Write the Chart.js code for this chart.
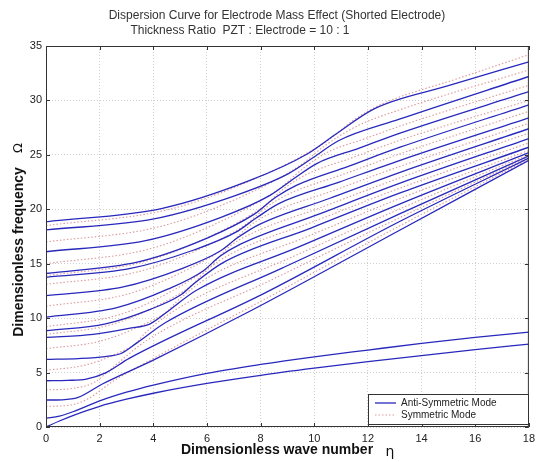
<!DOCTYPE html>
<html>
<head>
<meta charset="utf-8">
<script src="https://cdn.jsdelivr.net/npm/chart.js@4.4.1/dist/chart.umd.min.js"></script>
<style>
  html, body { margin: 0; padding: 0; background: #fff; }
  #wrap { width: 540px; height: 462px; }
</style>
</head>
<body>
<div id="wrap"><canvas id="dispersion" width="540" height="462"></canvas></div>
<script>
// tick labels
const xTicks = [0, 2, 4, 6, 8, 10, 12, 14, 16, 18];
const yTicks = [0, 5, 10, 15, 20, 25, 30, 35];

// Anti-symmetric modes (solid blue), points [eta, Omega]
const aLow1 = [[0,0],[0.5,0.55],[1,1.05],[2,1.9],[3,2.55],[4,3.1],[6,4.0],[8,4.75],[10,5.4],[12,6.0],[14,6.55],[16,7.1],[18,7.62]];
const aLow2 = [[0,0.8],[0.5,1.0],[1,1.4],[2,2.4],[3,3.2],[4,3.85],[6,4.93],[8,5.75],[10,6.45],[12,7.07],[14,7.68],[16,8.23],[18,8.72]];
const a1  = [[0,2.48],[0.6,2.5],[1.2,2.72],[2.1,3.95],[4,6.15],[7.65,10.7],[13.2,18.1],[18,24.5]];
const a2  = [[0,4.25],[0.8,4.28],[1.5,4.4],[2.2,4.95],[3.1,6.3],[8.15,12.3],[13.2,18.9],[18,24.7]];
const a3  = [[0,6.21],[1.2,6.29],[2.2,6.47],[2.8,6.75],[3.4,7.75],[4.46,9.6],[8.8,14.6],[13.2,19.6],[18,24.9]];
const a4  = [[0,8.23],[1.76,8.5],[3.09,9.05],[3.9,9.5],[4.5,10.55],[5.61,12.56],[9.4,16.52],[13.2,20.5],[18,25.2]];
const a5  = [[0,8.84],[2.22,9.48],[3.89,10.81],[5.0,12.1],[5.51,13.16],[6.57,15.06],[9.9,18.3],[13.2,21.5],[18,25.7]];
const a6  = [[0,10.1],[2.61,10.94],[4.56,12.68],[5.87,14.36],[6.47,15.66],[7.25,16.8],[10.2,19.58],[13.2,22.4],[18,26.5]];
const a7  = [[0,12.06],[2.88,12.87],[5.04,14.53],[6.48,16.14],[7.15,17.4],[7.92,18.57],[10.56,20.99],[13.2,23.4],[18,27.4]];
const a8  = [[0,13.75],[3.15,14.57],[5.51,16.26],[7.08,17.9],[7.82,19.17],[8.66,20.5],[10.93,22.5],[13.2,24.5],[18,28.4]];
const a9  = [[0,14.1],[3.44,15.17],[6.03,17.38],[7.75,19.53],[8.56,21.1],[9.33,22.2],[11.27,23.95],[13.2,25.7],[18,29.6]];
const a10 = [[0,16.1],[3.71,17.12],[6.5,19.24],[8.35,21.28],[9.23,22.8],[10.09,24.2],[11.65,25.6],[13.2,27.0],[18,30.8]];
const a11 = [[0,18.1],[4.02,19.12],[7.03,21.24],[9.04,23.28],[9.99,24.8],[10.9,26.3],[13.2,28.3],[18,32.2]];
const a12 = [[0,18.85],[4.34,20.09],[7.6,22.65],[9.77,25.13],[10.8,26.9],[12.25,29.25],[15,31.35],[18,33.55]];

// Symmetric modes (dotted pink)
const s1  = [[0,1.9],[0.8,1.98],[1.5,2.5],[2.5,4.2],[4,6.3],[7.9,11.4],[13.2,18.5],[18,24.6]];
const s2  = [[0,3.4],[1.0,3.55],[1.8,4.1],[2.5,5.5],[3.78,8.0],[8.5,13.63],[13.2,19.25],[18,24.8]];
const s3  = [[0,5.2],[1.49,5.7],[2.61,6.72],[3.36,7.71],[3.68,8.6],[5.04,11.08],[9.12,15.56],[13.2,20.05],[18,25.05]];
const s4  = [[0,7.2],[2.0,7.87],[3.49,9.25],[4.49,10.59],[4.94,11.68],[6.09,13.81],[9.65,17.41],[13.2,21.0],[18,25.4]];
const s5  = [[0,8.5],[2.42,9.4],[4.23,11.25],[5.44,13.04],[5.99,14.41],[6.91,15.93],[10.05,18.94],[13.2,21.95],[18,26.1]];
const s6  = [[0,9.2],[2.74,10.32],[4.8,12.64],[6.17,14.89],[6.81,16.53],[7.59,17.69],[10.4,20.3],[13.2,22.9],[18,27.0]];
const s7  = [[0,11.1],[3.02,12.2],[5.28,14.48],[6.79,16.68],[7.49,18.29],[8.29,19.54],[10.75,21.75],[13.2,23.95],[18,27.9]];
const s8  = [[0,13.1],[3.3,14.18],[5.77,16.4],[7.42,18.56],[8.19,20.14],[9.0,21.35],[11.1,23.23],[13.2,25.1],[18,29.0]];
const s9  = [[0,13.9],[3.58,15.14],[6.27,17.7],[8.06,20.18],[8.9,21.95],[9.71,23.2],[11.45,24.77],[13.2,26.35],[18,30.0]];
const s10 = [[0,15.0],[3.86,16.36],[6.76,19.17],[8.69,21.89],[9.61,23.8],[10.5,25.25],[11.85,26.45],[13.2,27.65],[18,31.4]];
const s11 = [[0,17.0],[4.18,18.37],[7.32,21.19],[9.41,23.93],[10.4,25.85],[11.6,27.65],[13.2,29.15],[18,32.8]];
const s12 = [[0,18.5],[4.62,20.01],[8.09,23.13],[10.4,26.15],[11.5,28.25],[12.55,29.7],[15.3,31.97],[18,34.2]];

const antiModes = [aLow1, aLow2, a1, a2, a3, a4, a5, a6, a7, a8, a9, a10, a11, a12];
const symModes = [s1, s2, s3, s4, s5, s6, s7, s8, s9, s10, s11, s12];

const BLUE = '#2828bc';
const PINK = '#de9a9a';

Chart.defaults.font.family = "'Liberation Sans', Arial, sans-serif";
Chart.defaults.color = '#222';

const datasets = [];
symModes.forEach(m => datasets.push({
    data: m.map(p => ({ x: p[0], y: p[1] })),
    borderColor: PINK,
    borderWidth: 1.1,
    borderDash: [1.5, 2],
    order: 2
}));
antiModes.forEach(m => datasets.push({
    data: m.map(p => ({ x: p[0], y: p[1] })),
    borderColor: BLUE,
    borderWidth: 1.3,
    order: 1
}));

// box, inner ticks, titles, axis labels and legend (matlab look)
const decor = {
    id: 'decor',
    afterDraw(chart) {
        const ctx = chart.ctx;
        const a = chart.chartArea;
        const xs = chart.scales.x, ys = chart.scales.y;
        ctx.save();
        ctx.strokeStyle = '#333';
        ctx.lineWidth = 1;
        ctx.strokeRect(a.left + 0.5, a.top + 0.5, a.right - a.left - 1, a.bottom - a.top - 1);
        ctx.beginPath();
        xTicks.forEach(v => {
            const px = Math.round(xs.getPixelForValue(v)) + 0.5;
            ctx.moveTo(px, a.bottom); ctx.lineTo(px, a.bottom - 4);
            ctx.moveTo(px, a.top); ctx.lineTo(px, a.top + 4);
        });
        yTicks.forEach(v => {
            const py = Math.round(ys.getPixelForValue(v)) + 0.5;
            ctx.moveTo(a.left, py); ctx.lineTo(a.left + 4, py);
            ctx.moveTo(a.right, py); ctx.lineTo(a.right - 4, py);
        });
        ctx.stroke();

        // titles
        ctx.fillStyle = '#333';
        ctx.textBaseline = 'middle';
        ctx.textAlign = 'center';
        ctx.font = "12px 'Liberation Sans', Arial, sans-serif";
        ctx.fillText('Dispersion Curve for Electrode Mass Effect (Shorted Electrode)', 277, 16);
        ctx.fillText('Thickness Ratio  PZT : Electrode = 10 : 1', 240, 31);

        // axis labels
        ctx.fillStyle = '#111';
        ctx.font = "bold 14px 'Liberation Sans', Arial, sans-serif";
        ctx.fillText('Dimensionless wave number', 277, 450);
        ctx.font = "14px 'DejaVu Sans', sans-serif";
        ctx.fillText('\u03b7', 390, 452);
        ctx.save();
        ctx.translate(19, 252);
        ctx.rotate(-Math.PI / 2);
        ctx.font = "bold 14px 'Liberation Sans', Arial, sans-serif";
        ctx.fillText('Dimensionless frequency', 0, 0);
        ctx.font = "13px 'DejaVu Sans', sans-serif";
        ctx.fillText('\u03a9', 104, 0);
        ctx.restore();

        // legend
        const lx = 368, ly = 394, lw = 160, lh = 30;
        ctx.fillStyle = '#fff';
        ctx.fillRect(lx, ly, lw, lh);
        ctx.strokeStyle = '#333';
        ctx.strokeRect(lx + 0.5, ly + 0.5, lw, lh);
        ctx.lineWidth = 1.3;
        ctx.strokeStyle = BLUE;
        ctx.beginPath(); ctx.moveTo(375, 403); ctx.lineTo(396, 403); ctx.stroke();
        ctx.lineWidth = 1.1;
        ctx.strokeStyle = PINK;
        ctx.setLineDash([1.5, 2]);
        ctx.beginPath(); ctx.moveTo(375, 415); ctx.lineTo(396, 415); ctx.stroke();
        ctx.setLineDash([]);
        ctx.fillStyle = '#222';
        ctx.textAlign = 'left';
        ctx.font = "10px 'Liberation Sans', Arial, sans-serif";
        ctx.fillText('Anti-Symmetric Mode', 401, 403);
        ctx.fillText('Symmetric Mode', 401, 415);
        ctx.restore();
    }
};

new Chart(document.getElementById('dispersion'), {
    type: 'line',
    data: { datasets: datasets },
    options: {
        responsive: false,
        animation: false,
        devicePixelRatio: 1,
        layout: { padding: { top: 46, right: 11, left: 0, bottom: 0 } },
        elements: {
            point: { radius: 0 },
            line: { cubicInterpolationMode: 'monotone', fill: false }
        },
        plugins: {
            legend: { display: false },
            tooltip: { enabled: false },
            title: { display: false }
        },
        scales: {
            x: {
                type: 'linear',
                min: 0,
                max: 18,
                afterBuildTicks: s => { s.ticks = xTicks.map(v => ({ value: v })); },
                afterFit: s => { s.height = 35; },
                grid: { color: '#cfcfcf', drawTicks: false },
                border: { display: false, dash: [1, 2] },
                ticks: { padding: 5, font: { size: 11 }, color: '#222' }
            },
            y: {
                type: 'linear',
                min: 0,
                max: 35,
                afterBuildTicks: s => { s.ticks = yTicks.map(v => ({ value: v })); },
                afterFit: s => { s.width = 46; },
                grid: { color: '#cfcfcf', drawTicks: false },
                border: { display: false, dash: [1, 2] },
                ticks: { padding: 4, font: { size: 11 }, color: '#222' }
            }
        }
    },
    plugins: [decor]
});
</script>
</body>
</html>
